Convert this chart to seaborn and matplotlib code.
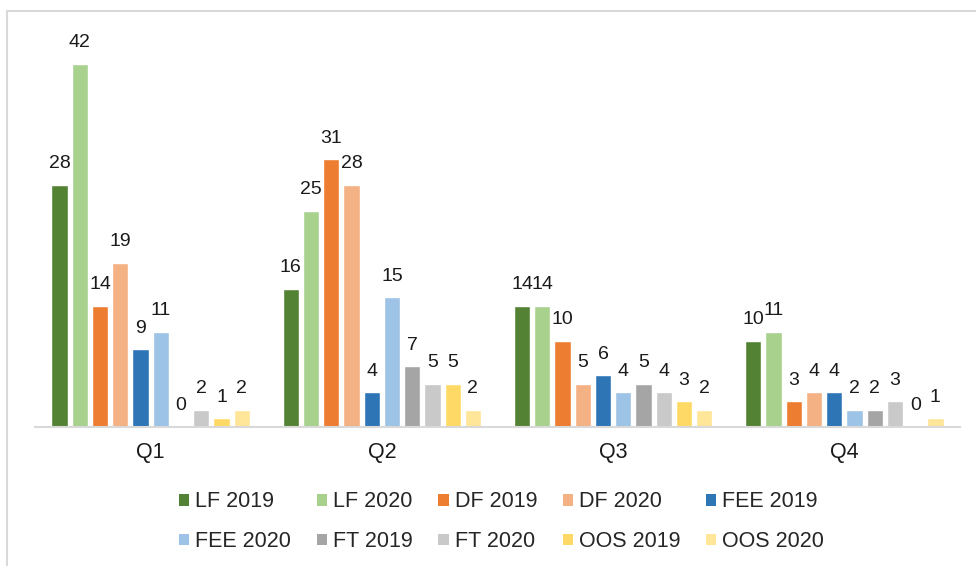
import matplotlib
matplotlib.use("Agg")
import matplotlib.pyplot as plt
from matplotlib.patches import Patch, Rectangle
import pandas as pd
import seaborn as sns

# data
quarters = ["Q1", "Q2", "Q3", "Q4"]
series = ["LF 2019", "LF 2020", "DF 2019", "DF 2020", "FEE 2019",
          "FEE 2020", "FT 2019", "FT 2020", "OOS 2019", "OOS 2020"]
lf_2019 = [28, 16, 14, 10]
lf_2020 = [42, 25, 14, 11]
df_2019 = [14, 31, 10, 3]
df_2020 = [19, 28, 5, 4]
fee_2019 = [9, 4, 6, 4]
fee_2020 = [11, 15, 4, 2]
ft_2019 = [0, 7, 5, 2]
ft_2020 = [2, 5, 4, 3]
oos_2019 = [1, 5, 3, 0]
oos_2020 = [2, 2, 2, 1]
colors = ["#548235", "#A9D18E", "#ED7D31", "#F4B183", "#2E75B6",
          "#9DC3E6", "#A5A5A5", "#C9C9C9", "#FFD966", "#FFE699"]

values = [lf_2019, lf_2020, df_2019, df_2020, fee_2019,
          fee_2020, ft_2019, ft_2020, oos_2019, oos_2020]
rows = []
for name, vals in zip(series, values):
    for q, v in zip(quarters, vals):
        rows.append({"quarter": q, "series": name, "value": v})
data = pd.DataFrame(rows)

sns.set_style("white")
plt.rcParams["font.family"] = ["Liberation Sans", "DejaVu Sans"]

fig = plt.figure(figsize=(9.76, 5.66), dpi=100)
ax = fig.add_axes([35 / 976, (566 - 427) / 566, 925 / 976, (427 - 38) / 566])

sns.barplot(data=data, x="quarter", y="value", hue="series", hue_order=series,
            order=quarters, palette=colors, width=0.875, gap=0.2,
            saturation=1, errorbar=None, legend=False, ax=ax)

for cont in ax.containers:
    ax.bar_label(cont, padding=9, fontsize=14, color="#1a1a1a")

ax.set_ylim(0, 45)
ax.set_xlabel("")
ax.set_ylabel("")
ax.set_yticks([])
for s in ["top", "right", "left"]:
    ax.spines[s].set_visible(False)
ax.spines["bottom"].set_color("#D9D9D9")
ax.spines["bottom"].set_linewidth(1.5)
ax.tick_params(axis="x", length=0, pad=11, labelsize=15.5, labelcolor="#1a1a1a")

# legend fills column-wise, so reorder to read row by row
order = [0, 5, 1, 6, 2, 7, 3, 8, 4, 9]
handles = [Patch(facecolor=colors[i], edgecolor="none") for i in order]
labels = [series[i] for i in order]
fig.legend(handles, labels, loc="center", bbox_to_anchor=(0.514, 0.078),
           ncol=5, frameon=False, fontsize=15.5, handlelength=0.47,
           handleheight=0.47, handletextpad=0.28, columnspacing=1.19,
           labelspacing=0.87, borderpad=0)

# chart frame
fig.add_artist(Rectangle((7 / 976, -0.1), 1.2, (566 - 11) / 566 + 0.1,
                         transform=fig.transFigure, fill=False,
                         edgecolor="#D9D9D9", linewidth=1.5))

fig.savefig("out.png", dpi=100)
